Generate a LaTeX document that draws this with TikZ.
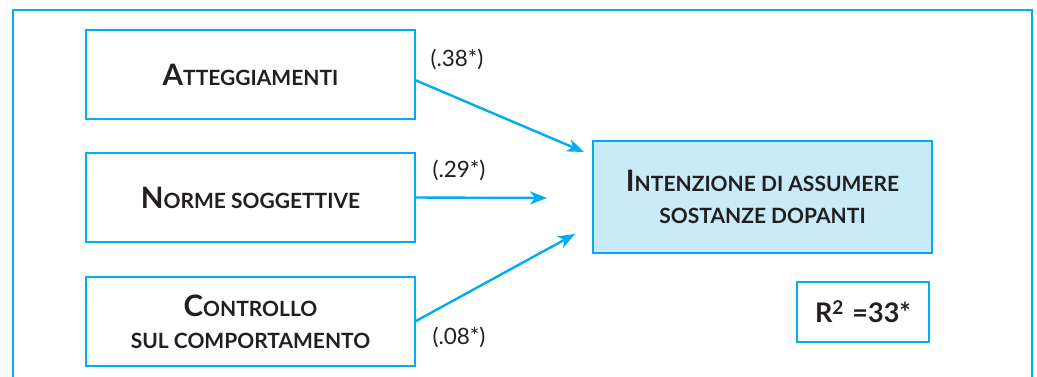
\documentclass[tikz,border=0pt]{standalone}
\usepackage{fontspec}
\setmainfont{Lato}
\usetikzlibrary{arrows.meta,calc}
\definecolor{cy}{HTML}{00AEEF}
\definecolor{cyfill}{HTML}{C8EAF9}
\definecolor{ink}{HTML}{231F20}
\newcommand\BigCap{\fontsize{29.5}{32}\selectfont}
\newcommand\SmlCap{\fontsize{21}{32}\selectfont}
\newcommand\SCw[2]{{\BigCap #1}{\SmlCap #2}}
\tikzset{
  varbox/.style={draw=cy, line width=1.5pt, minimum width=329pt, minimum height=89pt,
    inner sep=0pt, outer sep=0pt, align=center, text=ink,
    font=\bfseries\fontsize{21}{32}\selectfont},
  outbox/.style={varbox, fill=cyfill, minimum width=339pt, minimum height=112pt},
  rbox/.style={draw=cy, line width=1.5pt, minimum width=132pt, minimum height=60pt,
    inner sep=0pt, outer sep=0pt, text=ink, font=\bfseries\fontsize{27}{30}\selectfont},
  coef/.style={text=ink, font=\fontsize{22.5}{24}\selectfont, inner sep=0pt},
  path/.style={draw=cy, line width=2.4pt, -{Stealth[length=17pt,width=13pt,inset=5pt]}},
  frame/.style={draw=cy, line width=2.6pt}
}
\begin{document}
\begin{tikzpicture}[x=1pt,y=-1pt]
\useasboundingbox (0,0) rectangle (1037,376);
\clip (0,0) rectangle (1037,376);
\fill[white] (0,0) rectangle (1037,376);
\coordinate (fbl) at (13,390);
\coordinate (ftl) at (13,10);
\coordinate (ftr) at (1032,10);
\coordinate (fbr) at (1032,390);
\draw[frame] (fbl) -- (ftl) -- (ftr) -- (fbr);

\node[varbox] (A) at (250.5,74.5) {\SCw{A}{TTEGGIAMENTI}};
\node[varbox] (N) at (250.5,197.5) {\SCw{N}{ORME SOGGETTIVE}};
\node[varbox] (C) at (250.5,321.5) {\SCw{C}{ONTROLLO}\\SUL COMPORTAMENTO};
\node[outbox] (I) at (762.5,197) {\SCw{I}{NTENZIONE DI ASSUMERE}\\SOSTANZE DOPANTI};
\node[rbox] (R) at (863,312) {R\raisebox{8pt}{\fontsize{19}{20}\selectfont 2}\,\,=33*};

\coordinate (Ae) at (584,152);
\coordinate (Ne) at (547,198);
\coordinate (Ce) at (575,234);
\draw[path] ([yshift=-5.5pt]A.east) -- (Ae);
\draw[path] (N.east) -- (Ne);
\draw[path] (C.east) -- (Ce);

\node[coef] (a1) at (457,59) {(.38*)};
\node[coef] (a2) at (459,170) {(.29*)};
\node[coef] (a3) at (459,337) {(.08*)};
\end{tikzpicture}
\end{document}
